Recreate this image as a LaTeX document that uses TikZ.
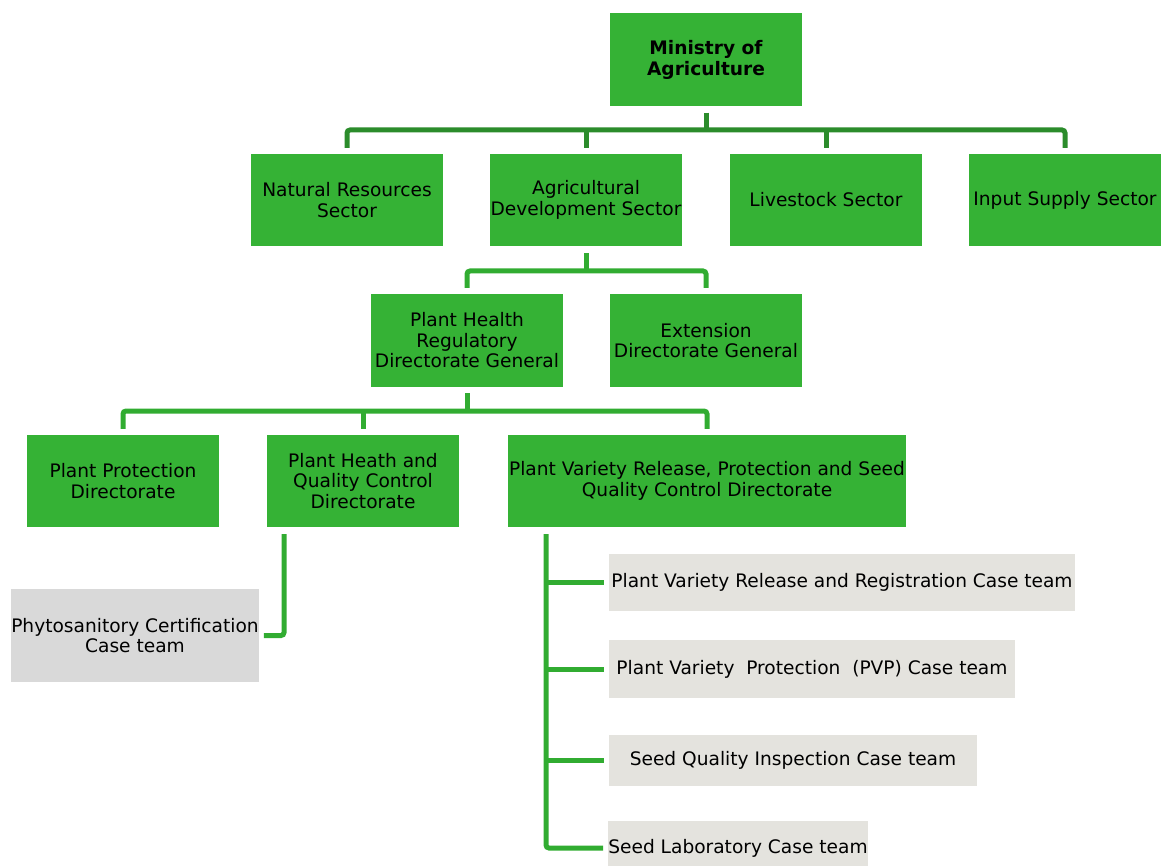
\documentclass[tikz,border=0pt]{standalone}
\usepackage{fontspec}
\setmainfont{DejaVu Sans}
\definecolor{boxgreen}{HTML}{35B235}
\definecolor{topline}{HTML}{2B8C2B}
\definecolor{linegreen}{HTML}{31AC31}
\definecolor{phygrey}{HTML}{D9D9D9}
\definecolor{casegrey}{HTML}{E4E3DE}
\begin{document}
\begin{tikzpicture}[x=1pt,y=-1pt,
  every node/.style={font=\fontsize{18.6}{20.5}\selectfont, text=black, inner sep=0pt, align=center},
  gbox/.style={fill=boxgreen, draw=none, minimum width=#1, minimum height=92},
  gbox/.default=192,
  phybox/.style={fill=phygrey, minimum width=246, minimum height=93},
  casebox/.style={fill=casegrey, minimum width=#1},
  conn/.style={draw=linegreen, line width=5pt, rounded corners=3pt},
  topconn/.style={draw=topline, line width=5pt, rounded corners=3pt}]
\useasboundingbox (0,0) rectangle (1161,866);
% level 0
\node[gbox, minimum height=93] (min) at (706,60) {\textbf{Ministry of}\\\textbf{Agriculture}};
% level 1
\node[gbox] (nr) at (347,200) {Natural Resources\\Sector};
\node[gbox] (ad) at (586,200) {Agricultural\\Development Sector};
\node[gbox] (ls) at (826,200) {Livestock Sector};
\node[gbox] (is) at (1065,200) {Input Supply Sector};
% level 2
\node[gbox, minimum height=93] (phr) at (467,340.5) {Plant Health\\Regulatory\\Directorate General};
\node[gbox, minimum height=93] (ext) at (706,340.5) {Extension\\Directorate General};
% level 3
\node[gbox] (pp) at (123,481) {Plant Protection\\Directorate};
\node[gbox] (pqc) at (363,481) {Plant Heath and\\Quality Control\\Directorate};
\node[gbox=398] (pvr) at (707,481) {Plant Variety Release, Protection and Seed\\Quality Control Directorate};
% case teams
\node[phybox] (phy) at (135,635.5) {Phytosanitory Certification\\Case team};
\node[casebox=466, minimum height=57] (c1) at (842,582.5) {Plant Variety Release and Registration Case team};
\node[casebox=406, minimum height=58] (c2) at (812,669) {Plant Variety\ \ Protection\ \ (PVP) Case team};
\node[casebox=368, minimum height=51] (c3) at (793,760.5) {Seed Quality Inspection Case team};
\node[casebox=258, minimum height=54] (c4) at (738,848) {Seed Laboratory Case team};
% bus coordinates
\coordinate (b1) at (706,130);
\coordinate (b2) at (586,271);
\coordinate (b3) at (467,411);
\coordinate (p1) at (284,534);
\coordinate (v1) at (546,534);
% connectors level 0 -> 1
\draw[topconn] ([yshift=6pt]nr.north) |- (b1) -| ([yshift=6pt]is.north);
\draw[topconn] ([yshift=-6pt]min.south) -- (b1);
\draw[topconn] ([yshift=6pt]ad.north) -- (ad.north |- b1);
\draw[topconn] ([yshift=6pt]ls.north) -- (ls.north |- b1);
% level 1 -> 2
\draw[conn] ([yshift=6pt]phr.north) |- (b2) -| ([yshift=6pt]ext.north);
\draw[conn] ([yshift=-7pt]ad.south) -- (b2);
% level 2 -> 3
\draw[conn] ([yshift=6pt]pp.north) |- (b3) -| ([yshift=6pt]pvr.north);
\draw[conn] ([yshift=-6pt]phr.south) -- (b3);
\draw[conn] ([yshift=6pt]pqc.north) -- (pqc.north |- b3);
% phyto
\draw[conn] (p1) |- ([xshift=5pt]phy.east);
% case teams
\draw[conn] (v1) |- ([xshift=-5pt]c4.west);
\draw[conn] ([xshift=-5pt]c1.west) -- (c1.west -| v1);
\draw[conn] ([xshift=-5pt]c2.west) -- (c2.west -| v1);
\draw[conn] ([xshift=-5pt]c3.west) -- (c3.west -| v1);
\end{tikzpicture}
\end{document}
